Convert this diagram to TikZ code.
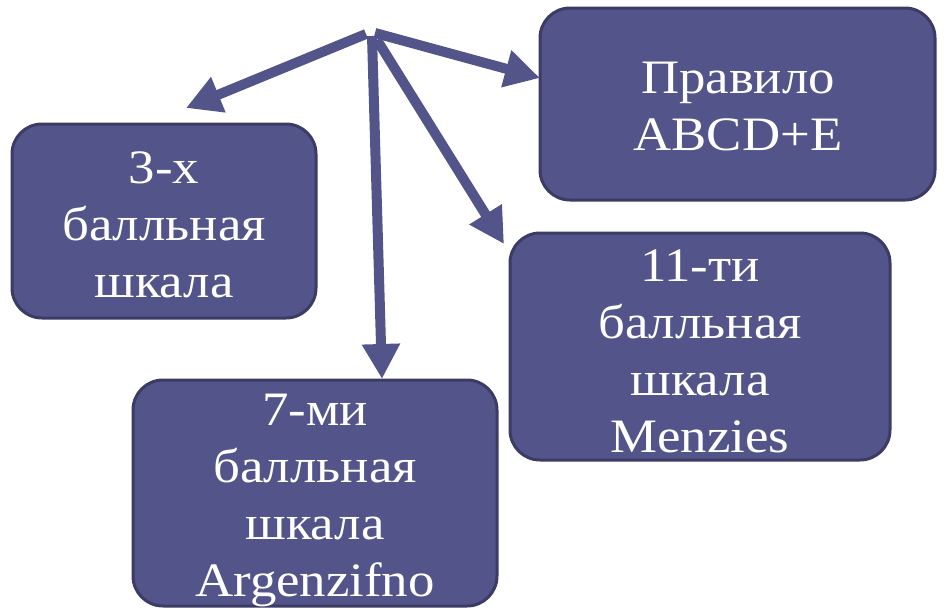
\documentclass[tikz,border=0pt]{standalone}
\usepackage{fontspec}
\setmainfont[FakeStretch=1.1]{Liberation Serif}
\usetikzlibrary{arrows.meta}
\definecolor{boxfill}{HTML}{53548A}
\definecolor{boxdraw}{HTML}{3C3B64}
\tikzset{
  box/.style={draw=boxdraw, line width=3pt, fill=boxfill, rounded corners=30pt,
    inner sep=0pt},
  lbl/.style={text=white, align=center, inner sep=0pt,
    font=\fontsize{48}{57}\selectfont},
  conn/.style={draw=boxfill, line width=10pt,
    -{Triangle[length=35pt,width=36pt]}}
}
\begin{document}
\begin{tikzpicture}[x=1pt,y=-1pt]
\useasboundingbox (0,0) rectangle (947,613);
\node[box, minimum width=304pt, minimum height=194pt] (a) at (164,221) {};
\node[box, minimum width=395pt, minimum height=192pt] (b) at (737.5,104) {};
\node[box, minimum width=380pt, minimum height=227pt] (c) at (700,346.5) {};
\node[box, minimum width=364pt, minimum height=226pt] (d) at (315,493) {};
\node[lbl] (at) at (164,225) {3-х\\балльная\\шкала};
\node[lbl] (bt) at (738,107) {Правило\\ABCD+E};
\node[lbl] (ct) at (700,351) {11-ти\\балльная\\шкала\\Menzies};
\node[lbl] (dt) at (315,500) {7-ми\\балльная\\шкала\\Argenzifno};
\coordinate (s1) at (366,34);
\coordinate (s2) at (375,33);
\coordinate (s3) at (372,36);
\coordinate (s4) at (377,40);
\coordinate (t1) at (186,108);
\coordinate (t2) at (540,78);
\coordinate (t3) at (382,379);
\coordinate (t4) at (504,244);
\draw[conn] (s3) -- (t3);
\draw[conn] (s4) -- (t4);
\draw[conn] (s1) -- (t1);
\draw[conn] (s2) -- (t2);
\end{tikzpicture}
\end{document}
